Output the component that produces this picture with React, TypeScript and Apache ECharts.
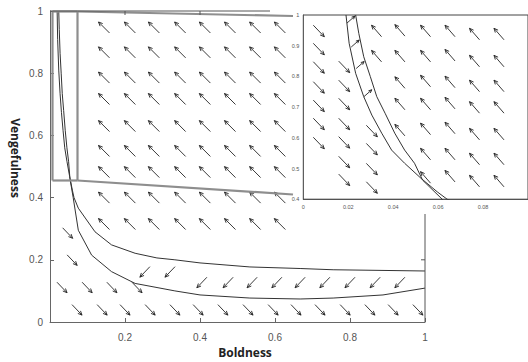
import React, { useEffect, useRef } from 'react';
import * as echarts from 'echarts';

// ---- curves (Boldness, Vengefulness) ----
const upperCurve: number[][] = [
  [0.019, 1], [0.0204, 0.908], [0.0233, 0.81], [0.0269, 0.734], [0.0305, 0.674],
  [0.0349, 0.615], [0.0393, 0.56], [0.0451, 0.517], [0.0524, 0.468], [0.0596, 0.424],
  [0.064, 0.4], [0.0755, 0.366], [0.12, 0.29], [0.164, 0.248], [0.227, 0.221],
  [0.285, 0.206], [0.333, 0.2], [0.4, 0.19], [0.533, 0.177], [0.667, 0.172],
  [0.755, 0.168], [1, 0.164],
];
const lowerCurve: number[][] = [
  [0.0233, 1], [0.0247, 0.94], [0.0269, 0.864], [0.0298, 0.8], [0.0327, 0.734],
  [0.0364, 0.68], [0.0407, 0.615], [0.0451, 0.56], [0.0495, 0.517], [0.0531, 0.462],
  [0.0618, 0.4], [0.0755, 0.295], [0.111, 0.215], [0.164, 0.162], [0.227, 0.124],
  [0.333, 0.1], [0.4, 0.087], [0.533, 0.077], [0.667, 0.074], [0.755, 0.077],
  [0.888, 0.087], [1, 0.109],
];

// ---- main plot arrows (centres) ----
const mainNWCols = [0.144, 0.213, 0.277, 0.347, 0.413, 0.48, 0.547, 0.613];
const mainNWRows = [0.947, 0.867, 0.786, 0.717, 0.63, 0.55, 0.482, 0.4, 0.315];
const mainSE: number[][] = [
  [0.072, 0.039], [0.139, 0.039], [0.2, 0.039], [0.267, 0.039], [0.333, 0.039],
  [0.395, 0.039], [0.461, 0.039], [0.528, 0.039], [0.595, 0.039], [0.656, 0.039],
  [0.72, 0.039], [0.787, 0.039], [0.853, 0.039], [0.915, 0.039], [0.981, 0.039],
  [0.032, 0.111], [0.099, 0.111], [0.165, 0.111], [0.232, 0.111],
  [0.047, 0.286], [0.059, 0.199],
];
const mainSW: number[][] = [
  [0.253, 0.161], [0.32, 0.161],
  [0.405, 0.127], [0.475, 0.127], [0.539, 0.127], [0.605, 0.127], [0.667, 0.127],
  [0.733, 0.127], [0.8, 0.127], [0.867, 0.127], [0.933, 0.127],
];

// ---- inset arrows ----
const insetSE: number[][] = [
  [0.0069, 0.948], [0.0069, 0.889], [0.0069, 0.829], [0.0069, 0.764], [0.0069, 0.704], [0.0069, 0.645], [0.0069, 0.583],
  [0.0182, 0.831], [0.0182, 0.769], [0.0182, 0.71], [0.0182, 0.645], [0.0182, 0.585], [0.0182, 0.521], [0.0182, 0.463],
  [0.0305, 0.622], [0.0305, 0.563], [0.0305, 0.498], [0.0305, 0.438],
];
const insetNE: number[][] = [[0.0212, 0.985], [0.0231, 0.907], [0.0253, 0.837], [0.0287, 0.745]];
const insetNW: number[][] = [
  [0.0326, 0.948], [0.0326, 0.866],
  [0.043, 0.95], [0.043, 0.866], [0.043, 0.78], [0.043, 0.71], [0.043, 0.625],
  [0.0544, 0.948], [0.0544, 0.866], [0.0544, 0.785], [0.0544, 0.71], [0.0544, 0.629], [0.0544, 0.547], [0.0544, 0.471],
  [0.0653, 0.948], [0.0653, 0.869], [0.0653, 0.782], [0.0653, 0.713], [0.0653, 0.632], [0.0653, 0.547], [0.0653, 0.475],
  [0.0762, 0.938], [0.0762, 0.85], [0.0762, 0.769], [0.0762, 0.699], [0.0762, 0.612], [0.0762, 0.531], [0.0762, 0.459],
  [0.0871, 0.938], [0.0871, 0.85], [0.0871, 0.769], [0.0871, 0.699], [0.0871, 0.612], [0.0871, 0.531], [0.0871, 0.459],
];

const xLabelMain = 'Boldness';
const yLabelMain = 'Vengefulness';

const ARROW = '#222';
const GREY = '#8e8e8e';

function arrowSeries(data: number[][], xi: number, yi: number, vec: number[], head: number) {
  return {
    type: 'custom',
    xAxisIndex: xi,
    yAxisIndex: yi,
    data,
    silent: true,
    z: 3,
    encode: { x: 0, y: 1 },
    renderItem: (_p: any, api: any) => {
      const c = api.coord([api.value(0), api.value(1)]);
      const dx = vec[0], dy = vec[1];
      const t = [c[0] - dx / 2, c[1] - dy / 2];
      const h = [c[0] + dx / 2, c[1] + dy / 2];
      const ang = Math.atan2(dy, dx);
      const a1 = ang + Math.PI - 0.42;
      const a2 = ang + Math.PI + 0.42;
      const w1 = [h[0] + head * Math.cos(a1), h[1] + head * Math.sin(a1)];
      const w2 = [h[0] + head * Math.cos(a2), h[1] + head * Math.sin(a2)];
      return {
        type: 'group',
        children: [
          { type: 'line', shape: { x1: t[0], y1: t[1], x2: h[0], y2: h[1] }, style: { stroke: ARROW, lineWidth: 0.9 } },
          { type: 'polyline', shape: { points: [w1, h, w2] }, style: { stroke: ARROW, fill: null, lineWidth: 0.9 } },
        ],
      };
    },
  };
}

function curveSeries(data: number[][], xi: number, yi: number) {
  return {
    type: 'line',
    xAxisIndex: xi,
    yAxisIndex: yi,
    data,
    showSymbol: false,
    symbol: 'none',
    clip: true,
    silent: true,
    z: 4,
    lineStyle: { color: '#333', width: 1 },
  };
}

const tickFont = { fontFamily: 'Liberation Sans, Arial, sans-serif', color: '#555' };

export default function App() {
  const ref = useRef<HTMLDivElement>(null);
  useEffect(() => {
    if (!ref.current) return;
    const chart = echarts.init(ref.current, null, { renderer: 'svg' });
    const mainNW: number[][] = [];
    mainNWRows.forEach((y) => mainNWCols.forEach((x) => mainNW.push([x, y])));

    const line = (x1: number, y1: number, x2: number, y2: number, stroke: string, w: number, z = 50) => ({
      type: 'line', z, silent: true,
      shape: { x1, y1, x2, y2 },
      style: { stroke, lineWidth: w },
    });

    const option: any = {
      animation: false,
      backgroundColor: '#fff',
      grid: [
        { left: 50, top: 11, width: 375, height: 311, show: false },
        { left: 303.3, top: 15, width: 229.2, height: 184.2, show: true, backgroundColor: '#fff', borderColor: '#444', borderWidth: 1, z: 5 },
      ],
      xAxis: [
        {
          gridIndex: 0, type: 'value', min: 0, max: 1, interval: 0.2,
          axisLine: { show: true, lineStyle: { color: '#666', width: 1 } },
          axisTick: { show: true, inside: true, length: 4, lineStyle: { color: '#666' } },
          axisLabel: { ...tickFont, fontSize: 10, margin: 10, showMinLabel: false },
          splitLine: { show: false },
        },
        {
          gridIndex: 1, type: 'value', min: 0, max: 0.1, interval: 0.02,
          axisLine: { show: true, lineStyle: { color: '#444', width: 1 } },
          axisTick: { show: true, inside: true, length: 2.5, lineStyle: { color: '#444' } },
          axisLabel: { ...tickFont, fontSize: 5.5, margin: 5, showMaxLabel: false },
          splitLine: { show: false },
        },
        {
          gridIndex: 1, type: 'value', position: 'top', min: 0, max: 0.1, interval: 0.02,
          axisLine: { show: false },
          axisTick: { show: true, inside: true, length: 2.5, lineStyle: { color: '#444' } },
          axisLabel: { show: false },
          splitLine: { show: false },
        },
      ],
      yAxis: [
        {
          gridIndex: 0, type: 'value', min: 0, max: 1, interval: 0.2,
          axisLine: { show: true, lineStyle: { color: '#666', width: 1 } },
          axisTick: { show: true, inside: true, length: 4, lineStyle: { color: '#666' } },
          axisLabel: { ...tickFont, fontSize: 10, margin: 7 },
          splitLine: { show: false },
        },
        {
          gridIndex: 1, type: 'value', min: 0.4, max: 1, interval: 0.1,
          axisLine: { show: true, lineStyle: { color: '#444', width: 1 } },
          axisTick: { show: true, inside: true, length: 2.5, lineStyle: { color: '#444' } },
          axisLabel: { ...tickFont, fontSize: 5.5, margin: 4 },
          splitLine: { show: false },
        },
      ],
      series: [
        arrowSeries(mainNW, 0, 0, [-11, -11], 4.5),
        arrowSeries(mainSE, 0, 0, [10, 10.5], 4.5),
        arrowSeries(mainSW, 0, 0, [-10, 10.5], 4.5),
        curveSeries(upperCurve, 0, 0),
        curveSeries(lowerCurve, 0, 0),
        { ...arrowSeries(insetSE, 1, 1, [11, 11.5], 4.5), z: 10 },
        { ...arrowSeries(insetNE, 1, 1, [8, -7], 3.5), z: 10 },
        { ...arrowSeries(insetNW, 1, 1, [-10, -11.5], 4.5), z: 10 },
        { ...curveSeries(upperCurve, 1, 2 - 1), z: 11 },
        { ...curveSeries(lowerCurve, 1, 1), z: 11 },
      ],
      graphic: [
        // main frame partial top and right lines
        line(50, 11, 270, 11, '#555', 1, 60),
        line(125, 11, 125, 15, '#555', 1, 60),
        line(200, 11, 200, 15, '#555', 1, 60),
        line(425, 214, 425, 322, '#555', 1, 60),
        line(425, 259.8, 421, 259.8, '#555', 1, 60),
        // zoom rectangle
        line(52.5, 11.5, 52.5, 180.5, GREY, 2.2),
        line(77.5, 11.5, 77.5, 180.5, GREY, 2.2),
        line(52.5, 11.5, 77.5, 11.5, GREY, 2.2),
        line(52.5, 180.5, 77.5, 180.5, GREY, 2.2),
        // connectors to inset
        line(77.5, 11.5, 293, 16, GREY, 2.2),
        line(77.5, 180.5, 293, 194.5, GREY, 2.2),
        {
          type: 'text', z: 70, x: 245, y: 352,
          style: { text: xLabelMain, font: 'bold 12px "Open Sans", sans-serif', fill: '#222', align: 'center', verticalAlign: 'middle' },
        },
        {
          type: 'text', z: 70, x: 15, y: 158, rotation: -Math.PI / 2,
          style: { text: yLabelMain, font: 'bold 12px "Open Sans", sans-serif', fill: '#222', align: 'center', verticalAlign: 'middle' },
        },
      ],
    };
    chart.setOption(option);
    return () => chart.dispose();
  }, []);
  return <div ref={ref} style={{ position: 'absolute', left: 0, top: 0, width: 528, height: 362 }} />;
}
